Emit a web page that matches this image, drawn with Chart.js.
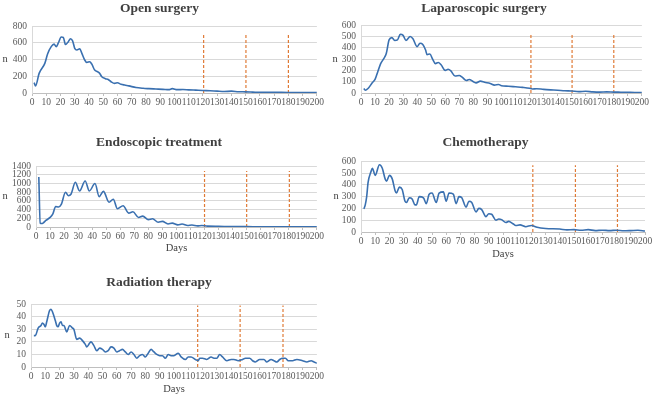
<!DOCTYPE html>
<html><head><meta charset="utf-8">
<script src="https://cdn.jsdelivr.net/npm/chart.js@4.4.1/dist/chart.umd.min.js"></script>
<style>
html,body{margin:0;padding:0;background:#fff;width:656px;height:397px;overflow:hidden;position:relative}
canvas{position:absolute}
</style></head><body>
<canvas id="c1" width="325" height="110" style="left:0px;top:0px"></canvas>
<canvas id="c2" width="324" height="110" style="left:326px;top:0px"></canvas>
<canvas id="c3" width="325" height="122" style="left:0px;top:134px"></canvas>
<canvas id="c4" width="330" height="128" style="left:326px;top:134px"></canvas>
<canvas id="c5" width="325" height="123" style="left:0px;top:274px"></canvas>
<script>
// ---------- data ----------
const titles = ["Open surgery","Laparoscopic surgery","Endoscopic treatment","Chemotherapy","Radiation therapy"];
const xTicks = [0,10,20,30,40,50,60,70,80,90,100,110,120,130,140,150,160,170,180,190,200];
const yTicks = [
  [0,200,400,600,800],
  [0,100,200,300,400,500,600],
  [0,200,400,600,800,1000,1200,1400],
  [0,100,200,300,400,500,600],
  [0,10,20,30,40,50]
];

const openDays = [1.5,2.5,5,9,11,13.5,15.5,17,18.5,20.5,22,23.5,25.5,27,28.5,30,31.5,33.5,35,37,38.5,40.5,42,44,46,47.5,49,51.5,53.5,55.5,58,60,62.5,65,68,73,78,82,87,92,96,98.5,102,106,110,115,120,125,130,135,140,145,150,155,160,168,175,180,190,200];
const openN    = [125,85,235,355,470,555,585,555,600,670,665,580,615,650,625,535,515,530,475,395,365,375,345,275,255,235,195,172,162,135,115,122,105,95,85,65,56,52,48,44,40,52,40,42,38,34,30,27,22,18,22,15,14,11,8,9,7,6,5,4];

const lapDays = [2,3,5,8,10,12,14,16,18,20,22,24,26,28,30,32,35,37,40,42,44,46,47,49,51,53,55,57,60,62,64,67,70,72,75,77,80,82,85,88,92,95,98,100,105,110,115,120,122,125,130,135,140,145,150,155,160,165,170,175,180,185,190,195,200];
const lapN    = [40,25,40,90,120,190,260,300,350,470,490,465,470,520,510,465,500,480,410,440,430,380,340,345,300,260,270,250,200,210,195,150,155,140,110,120,100,90,105,95,85,70,75,65,60,55,50,42,35,38,32,28,25,20,18,12,15,10,8,10,8,7,6,5,5];

const endoDays = [2,3,4,5,7,10,12,14,16,18,21,23,25,28,31,35,38,42,45,48,52,55,58,62,66,69,73,76,80,83,87,90,94,97,101,104,108,111,115,118,122,130,140,150,160,180,200];
const endoN    = [1150,90,80,90,150,220,300,470,460,520,800,720,760,1030,830,1060,830,1000,700,820,570,640,420,490,320,350,220,250,170,190,110,130,70,90,50,70,35,45,25,35,20,15,10,8,5,3,3];

const chemoDays = [2,3,4,5,7,8,10,13,15,17,18,20,22,24,25,27,29,31,32,34,36,38,39,41,44,46,48,50,53,55,58,60,62,65,67,69,71,74,76,78,81,83,85,88,90,92,95,97,99,102,104,107,109,112,116,120,124,130,140,145,150,155,160,165,170,175,180,185,190,195,200];
const chemoN    = [196,230,300,420,510,540,480,570,540,450,430,480,450,350,330,380,360,260,250,290,280,230,230,300,290,240,320,330,250,330,340,260,330,320,240,300,290,210,260,250,170,200,190,130,155,150,100,110,105,80,90,70,55,60,45,55,40,30,25,18,20,15,20,12,15,12,15,10,12,15,8];

const radDays = [2,3,5,7,8,9,10,11,13,14,15,17,18,19,20,21,22,23,25,27,29,30,32,34,36,38,39,41,42,44,46,48,50,52,54,56,58,60,62,64,66,68,70,72,74,76,78,80,82,84,86,88,90,92,94,96,98,100,103,105,108,110,112,115,117,118,120,123,126,128,130,132,134,137,140,142,145,148,150,153,155,157,160,163,165,168,170,172,174,176,178,180,183,186,190,193,196,198,200];
const radN    = [25,25,31,33,35,34,32,36,45,46,44,37,33,32,35,36,33,33,28,33,31,30,22,23,21,18,16,19,20,17,13,15,14,12,13,16,15,12,13,14,12,10,12,10,7,9,10,8,11,14,12,10,9,9,7,10,9,9,11,8,6,8,8,6,5,7,7,6,8,7,7,10,8,5,6,6,5,6,7,7,5,4,6,6,4,6,5,4,6,7,7,5,5,6,5,4,5,4,3];

const cutDays = [[120.5,150.2,180],[121,150.3,180],[120,150,180.4],[121,151,180.6],[116.6,146.3,176.3]];
const cutTop  = [700,530,1290,566,49];

// ---------- layout / style ----------
const layouts = [
  {id:'c1', yW:32, xH:17, padR:6,  tPad:10, nX:5,  days:false},
  {id:'c2', yW:35, xH:17, padR:8,  tPad:9,  nX:9,  days:false},
  {id:'c3', yW:36, xH:29, padR:7,  tPad:16, nX:5,  days:true},
  {id:'c4', yW:35, xH:30, padR:11, tPad:11, nX:10, days:true},
  {id:'c5', yW:31, xH:30, padR:7,  tPad:14, nX:7,  days:true}
];
const series = [[openDays,openN],[lapDays,lapN],[endoDays,endoN],[chemoDays,chemoN],[radDays,radN]];

const FONT = '"Liberation Serif","Times New Roman",serif';
const LINE = '#3A70B0';
const DASH = '#E07A35';

const nLabel = {
  id:'nLabel',
  afterDraw(chart, args, opts){
    const a = chart.chartArea, c = chart.ctx;
    c.save();
    c.font = '10.5px ' + FONT;
    c.fillStyle = '#404040';
    c.textAlign = 'center';
    c.textBaseline = 'middle';
    c.fillText('n', opts.x, (a.top + a.bottom) / 2);
    c.restore();
  }
};
Chart.register(nLabel);

layouts.forEach((L, i) => {
  const [dx, dy] = series[i];
  const yt = yTicks[i];
  const datasets = [{
    data: dx.map((d, k) => ({x: d, y: dy[k]})),
    borderColor: LINE, borderWidth: 1.6, pointRadius: 0,
    cubicInterpolationMode: 'monotone', fill: false
  }];
  cutDays[i].forEach(d => datasets.push({
    data: [{x: d, y: 0}, {x: d, y: cutTop[i]}],
    borderColor: DASH, borderWidth: 1.2, borderDash: [3, 2], pointRadius: 0, fill: false
  }));
  new Chart(document.getElementById(L.id), {
    type: 'line',
    data: {datasets},
    options: {
      responsive: false, animation: false, events: [],
      layout: {padding: {left: 0, right: L.padR, top: 0, bottom: 0}},
      plugins: {
        legend: {display: false}, tooltip: {enabled: false},
        title: {display: true, text: titles[i], color: '#404040',
          font: {family: FONT, size: 13.5, weight: 'bold'}, padding: {top: 0, bottom: L.tPad}},
        nLabel: {x: L.nX}
      },
      scales: {
        x: {
          type: 'linear', min: 0, max: 200,
          afterBuildTicks(s){ s.ticks = xTicks.map(v => ({value: v})); },
          afterFit(s){ s.height = L.xH; },
          ticks: {autoSkip: false, maxRotation: 0, minRotation: 0, padding: 1,
            color: '#595959', font: {family: FONT, size: 9.5}, callback: v => String(v)},
          grid: {display: true, drawOnChartArea: false, drawTicks: true, tickLength: 3, color: '#BFBFBF'},
          border: {display: true, color: '#BFBFBF'},
          title: {display: L.days, text: 'Days', color: '#404040',
            font: {family: FONT, size: 10.5}, padding: {top: 0, bottom: 1}}
        },
        y: {
          type: 'linear', min: yt[0], max: yt[yt.length - 1],
          afterBuildTicks(s){ s.ticks = yt.map(v => ({value: v})); },
          afterFit(s){ s.width = L.yW; },
          ticks: {autoSkip: false, padding: 5, color: '#595959',
            font: {family: FONT, size: 9.5}, callback: v => String(v)},
          grid: {color: '#D9D9D9', drawTicks: false},
          border: {display: true, color: '#D9D9D9'}
        }
      }
    }
  });
});
</script>
</body></html>
